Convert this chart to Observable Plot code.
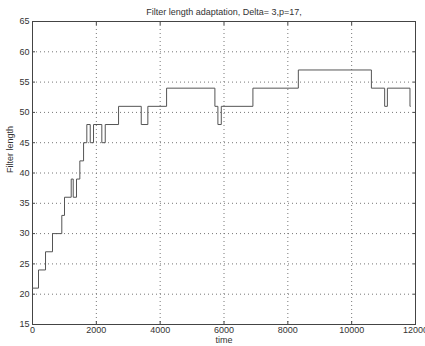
<!DOCTYPE html>
<html>
<head>
<meta charset="utf-8">
<script src="https://cdn.jsdelivr.net/npm/d3@7"></script>
<script src="https://cdn.jsdelivr.net/npm/@observablehq/plot@0.6"></script>
<style>
  html, body { margin: 0; padding: 0; background: #fff; }
  svg { display: block; }
</style>
</head>
<body>
<div id="chart"></div>
<script>
const titleText = "Filter length adaptation, Delta= 3,p=17,";
const xLabel = "time";
const yLabel = "Filter length";

const times  = [0, 188, 408, 627, 918, 1003, 1213, 1276, 1379, 1483, 1600, 1702, 1809, 1912, 2172, 2279, 2696, 3407, 3614, 4201, 5715, 5809, 5915, 6906, 8329, 10618, 11034, 11119, 11827, 11840];
const lengths = [21, 24, 27, 30, 33, 36, 39, 36, 39, 42, 45, 48, 45, 48, 45, 48, 51, 48, 51, 54, 51, 48, 51, 54, 57, 54, 51, 54, 51, 51];

const xTicks = [0, 2000, 4000, 6000, 8000, 10000, 12000];
const yTicks = [15, 20, 25, 30, 35, 40, 45, 50, 55, 60, 65];

const data = times.map((t, i) => ({t, v: lengths[i]}));

const font = "Liberation Sans, Arial, Helvetica, sans-serif";

const chart = Plot.plot({
  width: 425,
  height: 346,
  marginLeft: 32,
  marginRight: 10,
  marginTop: 21,
  marginBottom: 22,
  style: {fontFamily: font, fontSize: "9px", color: "#333", background: "#fff"},
  x: {domain: [0, 12000], ticks: xTicks},
  y: {domain: [15, 65], ticks: yTicks},
  marks: [
    Plot.gridX(xTicks.slice(1, -1), {stroke: "#777", strokeOpacity: 1, strokeDasharray: "1,3"}),
    Plot.gridY(yTicks.slice(1, -1), {stroke: "#777", strokeOpacity: 1, strokeDasharray: "1,3"}),
    Plot.axisX(xTicks, {anchor: "bottom", tickSize: 0, tickPadding: 2, label: null, tickFormat: d => String(d), fill: "#333"}),
    Plot.axisX(xTicks, {anchor: "bottom", tickSize: -3, text: null, stroke: "#444", label: null}),
    Plot.axisX(xTicks, {anchor: "top", tickSize: -3, text: null, stroke: "#444", label: null}),
    Plot.axisY(yTicks, {anchor: "left", tickSize: 0, tickPadding: 3, label: null, fill: "#333"}),
    Plot.axisY(yTicks, {anchor: "left", tickSize: -3, text: null, stroke: "#444", label: null}),
    Plot.axisY(yTicks, {anchor: "right", tickSize: -3, text: null, stroke: "#444", label: null}),
    Plot.frame({stroke: "#444", strokeWidth: 1}),
    Plot.line(data, {x: "t", y: "v", curve: "step-after", stroke: "#555", strokeWidth: 1}),
    Plot.text([titleText], {frameAnchor: "top", dy: -13, fontSize: 9, fill: "#333"}),
    Plot.text([xLabel], {frameAnchor: "bottom", dy: 18, fontSize: 9, fill: "#333"}),
    Plot.text([yLabel], {frameAnchor: "left", dx: -22, rotate: -90, fontSize: 9, fill: "#333"})
  ]
});

document.getElementById("chart").appendChild(chart);
</script>
</body>
</html>
